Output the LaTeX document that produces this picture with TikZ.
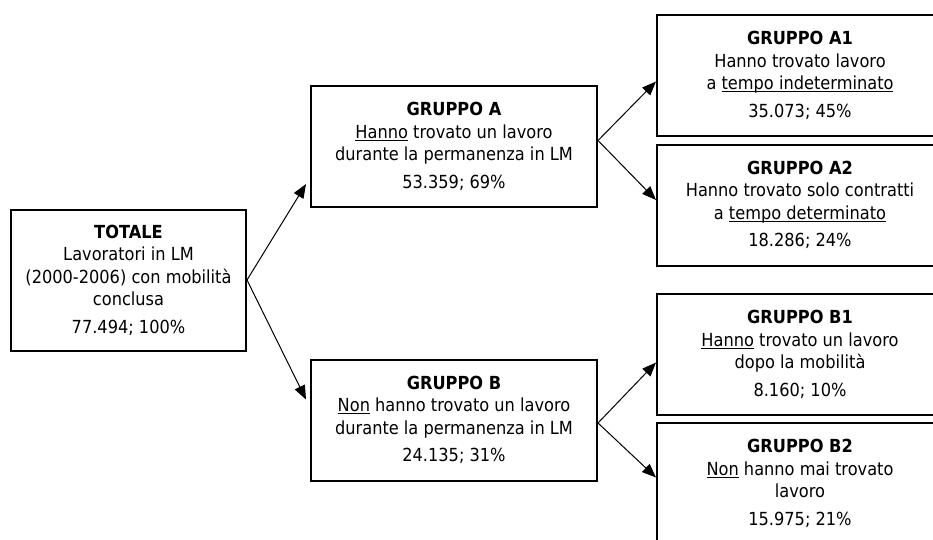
\documentclass[tikz,border=0pt]{standalone}
\usepackage{fontspec}
\setmainfont{DejaVu Sans}[FakeStretch=0.9]
\usetikzlibrary{arrows.meta}
\newsavebox\ulbox
\newcommand\myul[1]{\sbox\ulbox{#1}\rlap{\rule[-2.6pt]{\wd\ulbox}{1.4pt}}\usebox\ulbox}
\begin{document}
\begin{tikzpicture}[x=1pt,y=-1pt,
  box/.style={draw, line width=2pt, minimum width=286pt, minimum height=121pt,
    align=center, inner sep=0pt, text=black,
    font=\fontsize{18}{22.5}\selectfont},
  conn/.style={line width=1pt, -{Triangle[length=14pt,width=11pt]}}]
\useasboundingbox (0,0) rectangle (933,539);
\clip (0,0) rectangle (933,539);
\node[box, minimum width=235pt, minimum height=141pt] (T) at (128.5,280)
  {\textbf{TOTALE}\\Lavoratori in LM\\(2000-2006) con mobilità\\conclusa\\[5pt]77.494; 100\%};
\node[box] (A) at (454,146.5)
  {\textbf{GRUPPO A}\\\myul{Hanno} trovato un lavoro\\durante la permanenza in LM\\[5pt]53.359; 69\%};
\node[box] (B) at (454,420)
  {\textbf{GRUPPO B}\\\myul{Non} hanno trovato un lavoro\\durante la permanenza in LM\\[5pt]24.135; 31\%};
\node[box] (A1) at (800,75.5)
  {\textbf{GRUPPO A1}\\Hanno trovato lavoro\\a \myul{tempo indeterminato}\\[5pt]35.073; 45\%};
\node[box] (A2) at (800,205)
  {\textbf{GRUPPO A2}\\Hanno trovato solo contratti\\a \myul{tempo determinato}\\[5pt]18.286; 24\%};
\node[box] (B1) at (800,354.5)
  {\textbf{GRUPPO B1}\\\myul{Hanno} trovato un lavoro\\dopo la mobilità\\[5pt]8.160; 10\%};
\node[box] (B2) at (800,483.5)
  {\textbf{GRUPPO B2}\\\myul{Non} hanno mai trovato\\lavoro\\[5pt]15.975; 21\%};
\coordinate (tA) at ([xshift=-4pt,yshift=24pt]A.south west);
\coordinate (tB) at ([xshift=-4pt,yshift=-41pt]B.north west);
\coordinate (sA) at ([yshift=6pt]A.east);
\coordinate (sB) at ([yshift=-3pt]B.east);
\coordinate (tA1) at ([yshift=-6pt]A1.west);
\coordinate (tA2) at ([yshift=5pt]A2.west);
\coordinate (tB1) at ([yshift=-8pt]B1.west);
\coordinate (tB2) at ([yshift=6pt]B2.west);
\draw[conn] (T.east) -- (tA);
\draw[conn] (T.east) -- (tB);
\draw[conn] (sA) -- (tA1);
\draw[conn] (sA) -- (tA2);
\draw[conn] (sB) -- (tB1);
\draw[conn] (sB) -- (tB2);
\end{tikzpicture}
\end{document}
